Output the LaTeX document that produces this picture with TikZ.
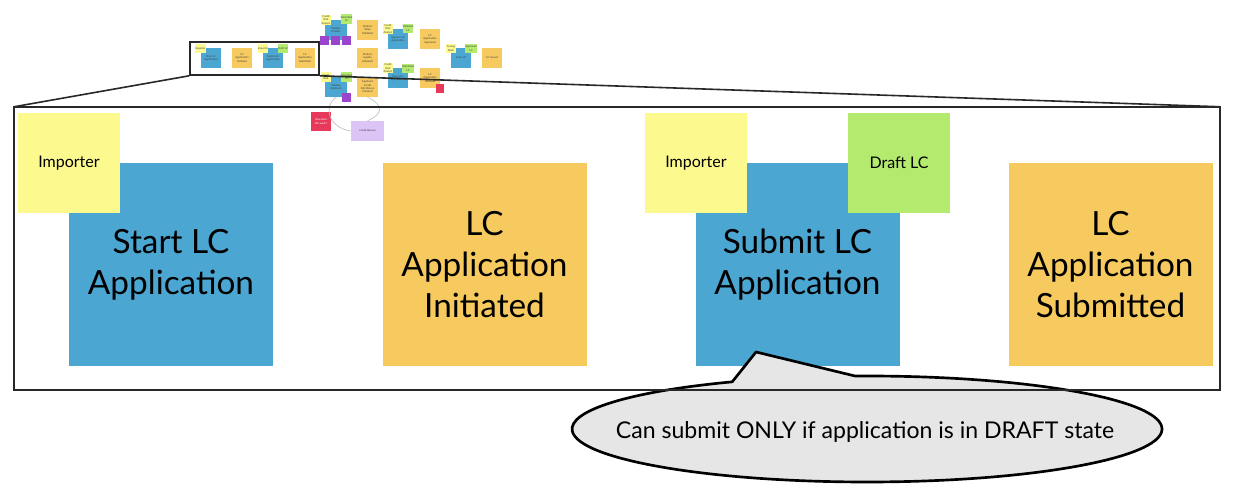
\documentclass[tikz,border=0pt]{standalone}
\usepackage{fontspec}
\setmainfont{Lato}
\definecolor{blueN}{RGB}{75,166,210}
\definecolor{orangeN}{RGB}{247,202,96}
\definecolor{yellowN}{RGB}{252,250,142}
\definecolor{greenN}{RGB}{180,235,111}
\definecolor{redN}{RGB}{232,57,91}
\definecolor{purpleN}{RGB}{153,69,204}
\definecolor{lpurpleN}{RGB}{220,196,246}
\definecolor{bubbleN}{RGB}{230,230,230}
\definecolor{frameN}{RGB}{40,40,40}
\begin{document}
\begin{tikzpicture}[x=0.75pt,y=0.75pt,
  note/.style={draw=none, inner sep=0pt, align=center, text=black},
  bignote/.style={note, minimum width=153pt, minimum height=152.25pt, font=\fontsize{25}{31}\selectfont},
  smallnote/.style={note, minimum width=76.5pt, minimum height=75pt, font=\fontsize{12}{14}\selectfont},
  tn/.style={note, font=\fontsize{2}{2.5}\selectfont, text=black!75},
  tbig/.style={tn, minimum width=15pt, minimum height=15pt},
  twide/.style={tn, minimum width=16.5pt, minimum height=15pt},
  tsmall/.style={tn, minimum width=7.5pt, minimum height=7pt},
  tsq/.style={tn, minimum width=6.75pt, minimum height=6.75pt},
  framestyle/.style={draw=frameN, line width=1.5pt},
  zoomline/.style={draw=frameN, line width=1.2pt},
  link/.style={draw=black!25, line width=0.5pt}
]
\useasboundingbox (0,0) rectangle (1252,-495);

% ---------- thumbnail board ----------
\node[tbig, fill=blueN] (t1) at (211,-58) {Start LC\\Application};
\node[tsmall, fill=yellowN] (t1y) at (200.5,-48.5) {Importer};
\node[tbig, fill=orangeN] (t2) at (242,-58) {LC\\Application\\Initiated};
\node[tbig, fill=blueN] (t3) at (273,-58) {Submit LC\\Application};
\node[tsmall, fill=yellowN] (t3y) at (263,-48.5) {Importer};
\node[tsmall, fill=greenN] (t3g) at (283,-48.5) {Draft LC};
\node[tbig, fill=orangeN] (t4) at (305,-58) {LC\\Application\\Submitted};

\node[twide, fill=blueN] (vp) at (336,-30) {Validate\\Product};
\node[tsmall, fill=yellowN, minimum height=7.5pt] (vpy) at (326,-20) {Credit\\Risk\\Analyst};
\node[tsmall, fill=greenN] (vpg) at (346.5,-19) {Submitted\\LC};
\node[tsq, fill=purpleN] (vpp1) at (324.5,-40.5) {};
\node[tsq, fill=purpleN] (vpp2) at (335.5,-40.5) {};
\node[tsq, fill=purpleN] (vpp3) at (346.5,-40.5) {};
\node[twide, fill=orangeN, minimum width=15.75pt] (pv) at (367.5,-30) {Product\\Value\\Validated};
\node[twide, fill=orangeN, minimum width=15.75pt] (pl) at (367.5,-58) {Product\\Legality\\Validated};

\node[tbig, fill=blueN] (ap) at (398,-39) {Approve LC\\Application};
\node[tsmall, fill=yellowN, minimum height=7.5pt] (apy) at (388,-29) {Credit\\Risk\\Analyst};
\node[tsmall, fill=greenN] (apg) at (408,-28.5) {Validated\\LC};
\node[tbig, fill=orangeN] (apo) at (430,-39) {LC\\Application\\Approved};

\node[tbig, fill=blueN] (is) at (461,-58) {Issue LC};
\node[tsmall, fill=yellowN] (isy) at (451,-48.5) {Issuing\\Bank};
\node[tsmall, fill=greenN] (isg) at (471,-48.5) {Approved\\LC};
\node[tbig, fill=orangeN] (iso) at (492,-58) {LC Issued};

\node[tbig, fill=blueN] (rj) at (398,-78) {Reject LC\\Application};
\node[tsmall, fill=yellowN, minimum height=7.5pt] (rjy) at (388,-68.5) {Credit\\Risk\\Analyst};
\node[tsmall, fill=greenN] (rjg) at (408,-68.5) {Submitted\\LC};
\node[tbig, fill=orangeN] (rjo) at (430,-78) {LC\\Application\\Declined};
\node[tsq, fill=redN, minimum width=6pt] (rjr) at (440,-88.5) {};

\node[twide, fill=blueN] (va) at (336,-87) {Validate\\Applicant};
\node[tsmall, fill=yellowN] (vay) at (326,-77) {Credit\\Risk};
\node[tsmall, fill=greenN] (vag) at (346.5,-77) {Submitted\\LC};
\node[tsq, fill=purpleN] (vap) at (346.5,-97.5) {};
\node[twide, fill=orangeN, minimum width=15.75pt] (ac) at (367.5,-87) {Applicant\\Credit\\Worthiness\\Checked};

\node[tbig, fill=redN, minimum height=14.25pt, text=white] (hw) at (321,-121.5) {How does\\this work?};
\node[tn, fill=lpurpleN, minimum width=24.75pt, minimum height=15pt] (cb) at (367.5,-131) {Credit Bureau};
\draw[link] (va.south) .. controls (322,-108) and (330,-128) .. (cb.west);
\draw[link] (ac.south) .. controls (385,-105) and (382,-115) .. (cb.north);

% thumbnail frame and zoom lines
\node[draw=frameN, line width=1.2pt, minimum width=96.75pt, minimum height=24.75pt, inner sep=0pt] (tf) at (254.5,-58.5) {};
\node[draw=none, minimum width=903.75pt, minimum height=212.25pt, inner sep=0pt] (bf) at (617,-248.5) {};
\draw[zoomline] (tf.south west) -- (bf.north west);
\draw[zoomline] (tf.south east) -- (bf.north east);

% ---------- big notes ----------
\node[bignote, fill=blueN] (start) at (171,-264.5) {Start LC\\Application};
\node[smallnote, fill=yellowN] (imp1) at (69,-163) {Importer};
\node[bignote, fill=orangeN] (init) at (484.5,-264.5) {LC\\Application\\Initiated};
\node[bignote, fill=blueN] (submit) at (797.5,-264.5) {Submit LC\\Application};
\node[smallnote, fill=yellowN] (imp2) at (696,-163) {Importer};
\node[smallnote, fill=greenN] (draft) at (899,-163) {Draft LC};
\node[bignote, fill=orangeN] (subm) at (1110.5,-264.5) {LC\\Application\\Submitted};

% ---------- speech bubble ----------
\coordinate (tip) at (756,-352);
\draw[line width=2pt, fill=bubbleN, line join=round] (tip) -- (855.2,-376.04)
  arc[start angle=92.3, end angle=-242.8, x radius=295, y radius=53] -- cycle;
\node[note, font=\fontsize{17.3}{20}\selectfont] (btxt) at (865,-432) {Can submit ONLY if application is in DRAFT state};

% big frame on top
\draw[framestyle] (bf.north west) rectangle (bf.south east);
\end{tikzpicture}
\end{document}
